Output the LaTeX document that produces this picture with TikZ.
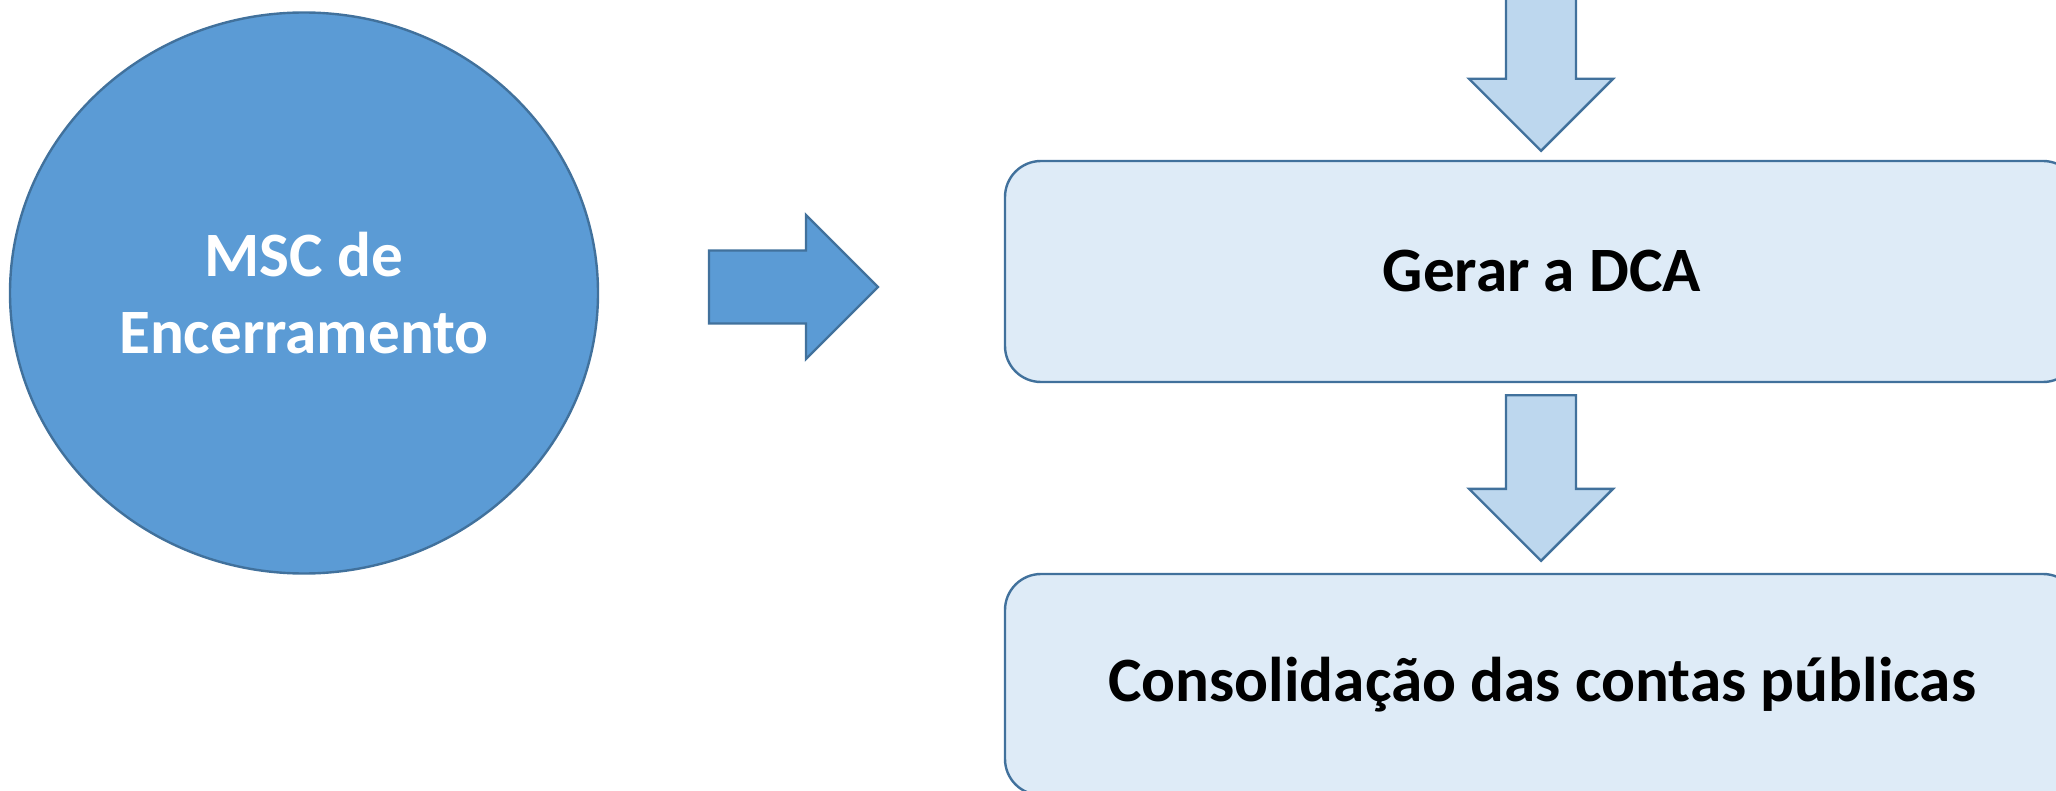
\documentclass[tikz,border=0pt]{standalone}
\usepackage{fontspec}
\setmainfont{Carlito}
\usetikzlibrary{shapes.geometric,calc}
\definecolor{deepfill}{HTML}{5B9BD5}
\definecolor{edgeblue}{HTML}{41719C}
\definecolor{palefill}{HTML}{DEEBF7}
\definecolor{midfill}{HTML}{BDD7EE}
\begin{document}
\begin{tikzpicture}[x=0.5pt,y=-0.5pt,
  bigtext/.style={font=\bfseries\fontsize{31.6}{38.5}\selectfont, align=center},
  stagebox/.style={rectangle, rounded corners=18pt, draw=edgeblue, fill=palefill,
     line width=1.2pt, minimum width=537pt, minimum height=110.5pt, inner sep=0pt, bigtext, text=black},
  blockarrow/.style={draw=edgeblue, line width=1.2pt, line join=miter},
]
\useasboundingbox (0,0) rectangle (2056,791);
\clip (0,0) rectangle (2056,791);

\node[ellipse, draw=edgeblue, fill=deepfill, line width=1.2pt,
      minimum width=294pt, minimum height=280.5pt, inner sep=0pt,
      bigtext, text=white] (msc) at (304,293) {MSC de\\Encerramento};

\node[stagebox] (gerar) at (1542,271.5) {Gerar a DCA};
\node[stagebox] (consol) at (1542,684.5) {Consolidação das contas públicas};

% right block arrow
\coordinate (r1s) at (709,287);
\coordinate (r1t) at (878,287);
\draw[blockarrow, fill=deepfill] let \p1=(r1s), \p2=(r1t) in
  (\x1,\y1+18.25pt) -- (\x2-36pt,\y1+18.25pt) -- (\x2-36pt,\y2+36pt) -- (\x2,\y2)
  -- (\x2-36pt,\y2-36pt) -- (\x2-36pt,\y1-18.25pt) -- (\x1,\y1-18.25pt) -- cycle;

% top block arrow (entering from above)
\coordinate (a1s) at (1541,-10);
\coordinate (a1t) at ($(gerar.north)+(-1,-9)$);
\draw[blockarrow, fill=midfill] let \p1=(a1s), \p2=(a1t) in
  (\x2-17.5pt,\y1) -- (\x2+17.5pt,\y1) -- (\x2+17.5pt,\y2+36pt) -- (\x2+36pt,\y2+36pt)
  -- (\x2,\y2) -- (\x2-36pt,\y2+36pt) -- (\x2-17.5pt,\y2+36pt) -- cycle;

% block arrow between the two boxes
\coordinate (a2s) at ($(gerar.south)+(-1,12)$);
\coordinate (a2t) at ($(consol.north)+(-1,-12)$);
\draw[blockarrow, fill=midfill] let \p1=(a2s), \p2=(a2t) in
  (\x2-17.5pt,\y1) -- (\x2+17.5pt,\y1) -- (\x2+17.5pt,\y2+36pt) -- (\x2+36pt,\y2+36pt)
  -- (\x2,\y2) -- (\x2-36pt,\y2+36pt) -- (\x2-17.5pt,\y2+36pt) -- cycle;
\end{tikzpicture}
\end{document}
